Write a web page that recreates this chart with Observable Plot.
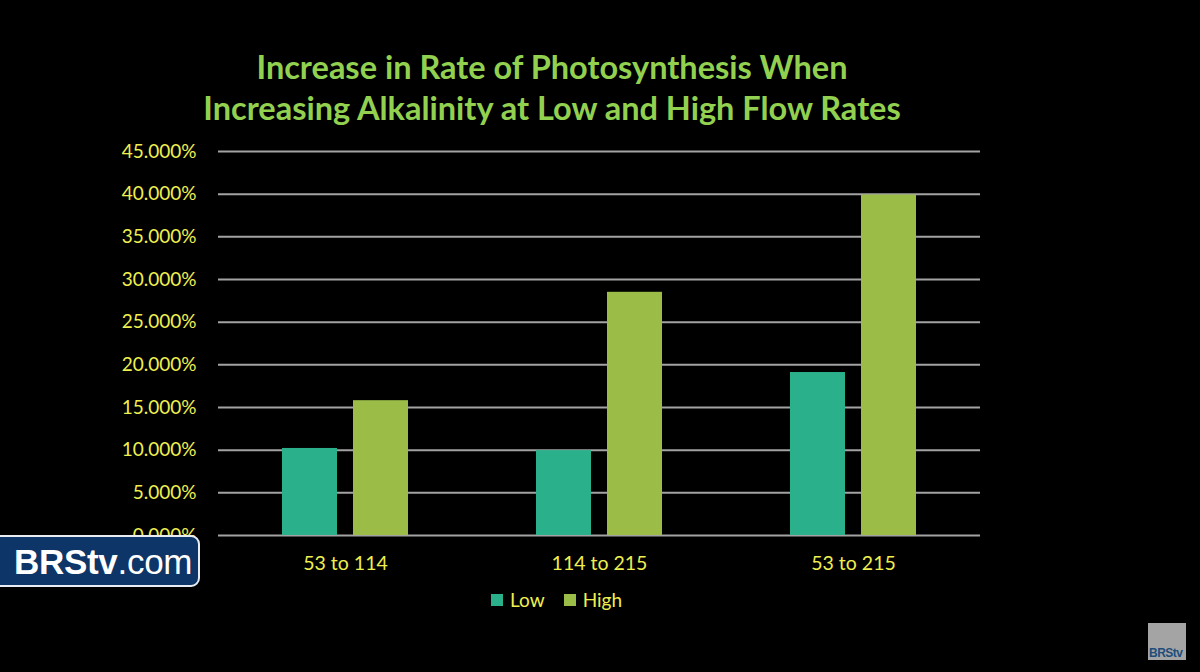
<!DOCTYPE html>
<html>
<head>
<meta charset="utf-8">
<script src="https://cdn.jsdelivr.net/npm/d3@7"></script>
<script src="https://cdn.jsdelivr.net/npm/@observablehq/plot@0.6"></script>
<style>
  html, body { margin: 0; padding: 0; background: #000; }
  #stage { position: relative; width: 1200px; height: 672px; background: #000; overflow: hidden; font-family: Lato, "Open Sans", sans-serif; }
  #title { position: absolute; left: 0; width: 1104px; top: 46px; text-align: center; color: #92d050; font-weight: 700; font-size: 32.5px; line-height: 41px; }
  #chart { position: absolute; left: 0; top: 0; }
  #legend { position: absolute; top: 588px; left: 491px; display: flex; align-items: center; color: #efef4f; font-size: 19px; }
  #legend .sw { width: 12px; height: 12px; margin-right: 7px; }
  #legend .item { display: flex; align-items: center; margin-right: 19px; }
  #badge { position: absolute; left: -14px; top: 535px; width: 214px; height: 52px; background: #0d3567; border: 2px solid #e8edf3; border-radius: 9px; color: #fff; font-family: "Liberation Sans", Arial, sans-serif; font-size: 35px; line-height: 50px; padding-left: 26px; box-sizing: border-box; letter-spacing: -0.3px; }
  #badge b { font-weight: 700; }
  #corner { position: absolute; left: 1148px; top: 623px; width: 38px; height: 37px; background: #a4a4a4; color: #1f4d7a; font-family: "Liberation Sans", Arial, sans-serif; font-weight: 700; font-size: 12px; line-height: 12px; box-sizing: border-box; padding-top: 24px; padding-left: 1px; letter-spacing: -0.5px; }
</style>
</head>
<body>
<div id="stage">
  <div id="chart"></div>
  <div id="title">Increase in Rate of Photosynthesis When<br>Increasing Alkalinity at Low and High Flow Rates</div>
  <div id="legend"></div>
  <div id="badge"><b>BRStv</b>.com</div>
  <div id="corner">BRStv</div>
</div>
<script>
// Alkalinity step (dKH range) for each group of bars
const ranges = ["53 to 114", "114 to 215", "53 to 215"];
// Flow rate series
const flows = ["Low", "High"];
// Percent increase in photosynthesis rate, per range
const lowValues = [10.2, 9.95, 19.1];
const highValues = [15.8, 28.5, 39.9];
// Y axis ticks (percent)
const yTicks = [0, 5, 10, 15, 20, 25, 30, 35, 40, 45];

const colors = {Low: "#2bb08c", High: "#9bbd48"};
const textColor = "#efef4f";

const rows = ranges.flatMap((r, i) => [
  {range: r, flow: "Low", value: lowValues[i]},
  {range: r, flow: "High", value: highValues[i]}
]);

const chart = Plot.plot({
  width: 1200,
  height: 672,
  marginTop: 151,
  marginBottom: 137,
  marginLeft: 218,
  marginRight: 220,
  style: {background: "transparent", fontFamily: "Lato, 'Open Sans', sans-serif"},
  fx: {domain: ranges, padding: 0, label: null},
  x: {domain: flows, paddingInner: 0.2222, paddingOuter: 0.875, axis: null},
  y: {domain: [0, 45], label: null},
  color: {domain: flows, range: flows.map(f => colors[f])},
  marks: [
    Plot.ruleY(yTicks, {stroke: "#a3a3a3", strokeWidth: 2}),
    Plot.barY(rows, {fx: "range", x: "flow", y: "value", fill: "flow", inset: 0}),
    Plot.axisY({
      ticks: yTicks, tickSize: 0, tickPadding: 22,
      tickFormat: d => d.toFixed(3) + "%",
      fill: textColor, fontSize: 19, label: null
    }),
    Plot.axisFx({
      anchor: "bottom", tickSize: 0, tickPadding: 21,
      fill: textColor, fontSize: 19.5, label: null
    })
  ]
});
document.getElementById("chart").appendChild(chart);

// Legend
const legend = d3.select("#legend");
flows.forEach(f => {
  const item = legend.append("div").attr("class", "item");
  item.append("div").attr("class", "sw").style("background", colors[f]);
  item.append("span").text(f);
});
</script>
</body>
</html>
